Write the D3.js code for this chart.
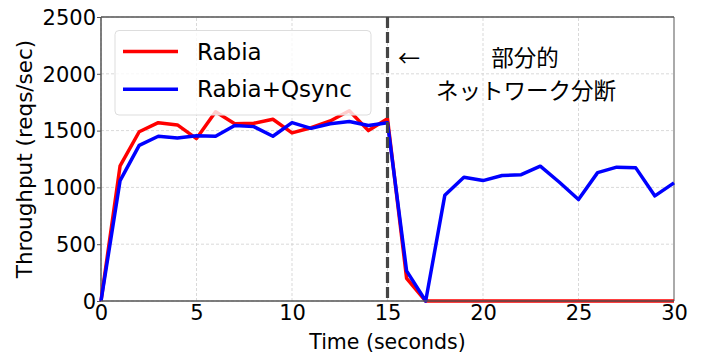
<!DOCTYPE html>
<html>
<head>
<meta charset="utf-8">
<script src="https://cdn.jsdelivr.net/npm/d3@7"></script>
<style>
  body { margin: 0; background: #fff; }
  text { font-family: "DejaVu Sans", "Noto Sans CJK JP", sans-serif; fill: #000; }
  .jp { font-family: "Noto Sans CJK JP", sans-serif; }
</style>
</head>
<body>
<div id="chart"></div>
<script>
// seconds 0..30
var times = d3.range(0, 31);
var rabia = [0, 1190, 1490, 1570, 1550, 1430, 1665, 1560, 1565, 1600, 1480, 1525, 1585, 1675, 1500, 1605,
             200, 0, 0, 0, 0, 0, 0, 0, 0, 0, 0, 0, 0, 0, 0];
var qsync = [0, 1060, 1370, 1450, 1435, 1455, 1450, 1545, 1535, 1450, 1570, 1520, 1560, 1580, 1545, 1570,
             265, 0, 930, 1090, 1060, 1105, 1112, 1187, 1045, 893, 1130, 1178, 1172, 925, 1040];
var xTicks = [0, 5, 10, 15, 20, 25, 30];
var yTicks = [0, 500, 1000, 1500, 2000, 2500];
var seriesNames = ['Rabia', 'Rabia+Qsync'];
var seriesColors = ['#ff0000', '#0000ff'];
var partitionAt = 15;
var noteLines = ['部分的', 'ネットワーク分断'];

var width = 703, height = 356;
var margin = {top: 17, right: 29, bottom: 55, left: 101};

var svg = d3.select('#chart').append('svg')
    .attr('width', width).attr('height', height);

var x = d3.scaleLinear().domain([0, 30]).range([margin.left, width - margin.right]);
var y = d3.scaleLinear().domain([0, 2500]).range([height - margin.bottom, margin.top]);

// grid
svg.append('g').selectAll('line.gx').data(xTicks).enter().append('line')
    .attr('x1', function(d) { return x(d); }).attr('x2', function(d) { return x(d); })
    .attr('y1', y(0)).attr('y2', y(2500))
    .attr('stroke', '#cfcfcf').attr('stroke-width', 0.8).attr('stroke-dasharray', '3,2');
svg.append('g').selectAll('line.gy').data(yTicks).enter().append('line')
    .attr('y1', function(d) { return y(d); }).attr('y2', function(d) { return y(d); })
    .attr('x1', x(0)).attr('x2', x(30))
    .attr('stroke', '#cfcfcf').attr('stroke-width', 0.8).attr('stroke-dasharray', '3,2');

// axes
var xAxis = svg.append('g').attr('transform', 'translate(0,' + y(0) + ')')
    .call(d3.axisBottom(x).tickValues(xTicks).tickFormat(d3.format('d')).tickSize(0).tickPadding(3));
var yAxis = svg.append('g').attr('transform', 'translate(' + x(0) + ',0)')
    .call(d3.axisLeft(y).tickValues(yTicks).tickFormat(d3.format('d')).tickSize(4).tickPadding(1));
xAxis.selectAll('text').style('font-size', '21px').attr('dy', '0.75em');
yAxis.selectAll('text').style('font-size', '21px').attr('dy', '0.35em');
xAxis.select('.domain').remove();
yAxis.select('.domain').remove();
yAxis.selectAll('line').attr('stroke', '#555');

// spines
svg.append('line').attr('x1', x(30)).attr('x2', x(30)).attr('y1', y(0)).attr('y2', y(2500))
    .attr('stroke', '#aaa').attr('stroke-width', 2);
svg.append('line').attr('x1', x(0)).attr('x2', x(30)).attr('y1', y(2500)).attr('y2', y(2500))
    .attr('stroke', '#555').attr('stroke-width', 1.5);
svg.append('line').attr('x1', x(0)).attr('x2', x(0)).attr('y1', y(0)).attr('y2', y(2500))
    .attr('stroke', '#555').attr('stroke-width', 1.5);

// lines
var line = d3.line()
    .x(function(d, i) { return x(times[i]); })
    .y(function(d) { return y(d); });
[rabia, qsync].forEach(function(s, i) {
    svg.append('path').datum(s)
        .attr('d', line)
        .attr('fill', 'none')
        .attr('stroke', seriesColors[i])
        .attr('stroke-width', 3.5)
        .attr('stroke-linejoin', 'round');
});

// bottom spine on top
svg.append('line').attr('x1', x(0)).attr('x2', x(30)).attr('y1', y(0)).attr('y2', y(0))
    .attr('stroke', '#555').attr('stroke-width', 1.5);

// partition marker
svg.append('line')
    .attr('x1', x(partitionAt)).attr('x2', x(partitionAt))
    .attr('y1', y(2500)).attr('y2', y(0))
    .attr('stroke', '#444').attr('stroke-width', 3.2)
    .attr('stroke-dasharray', '11,4');

svg.append('text').attr('class', 'jp').attr('x', x(15.55)).attr('y', 58).attr('dy', '0.35em')
    .style('font-size', '22px').text('←');
svg.append('text').attr('class', 'jp').attr('x', x(22.2)).attr('y', 58).attr('dy', '0.35em')
    .attr('text-anchor', 'middle').style('font-size', '22.5px').text(noteLines[0]);
svg.append('text').attr('class', 'jp').attr('x', x(22.25)).attr('y', 91).attr('dy', '0.35em')
    .attr('text-anchor', 'middle').style('font-size', '22.5px').text(noteLines[1]);

// legend
var lg = svg.append('g');
lg.append('rect').attr('x', 115).attr('y', 30.5).attr('width', 256).attr('height', 84.5)
    .attr('rx', 4).attr('fill', 'rgba(255,255,255,0.8)').attr('stroke', '#ddd');
seriesNames.forEach(function(n, i) {
    var ly = 51.5 + i * 37.7;
    lg.append('line').attr('x1', 123).attr('x2', 178).attr('y1', ly).attr('y2', ly)
        .attr('stroke', seriesColors[i]).attr('stroke-width', 3.5);
    lg.append('text').attr('x', 197).attr('y', ly).attr('dy', '0.35em')
        .style('font-size', '23px').text(n);
});

// axis titles
svg.append('text').attr('x', x(15)).attr('y', 342).attr('dy', '0.35em')
    .attr('text-anchor', 'middle').style('font-size', '20.5px').text('Time (seconds)');
svg.append('text').attr('transform', 'translate(24,' + ((y(0) + y(2500)) / 2) + ') rotate(-90)')
    .attr('dy', '0.35em').attr('text-anchor', 'middle').style('font-size', '21.5px')
    .text('Throughput (reqs/sec)');
</script>
</body>
</html>
